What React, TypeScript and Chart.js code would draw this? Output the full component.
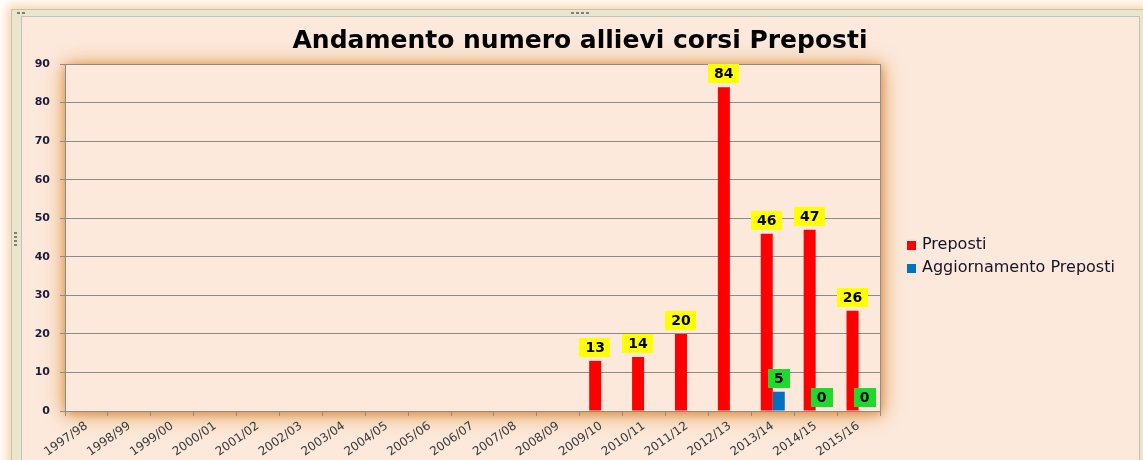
import React, { useEffect, useRef } from "react";
import { Chart, registerables } from "chart.js";

Chart.register(...registerables);

const categories = [
  "1997/98", "1998/99", "1999/00", "2000/01", "2001/02", "2002/03", "2003/04",
  "2004/05", "2005/06", "2006/07", "2007/08", "2008/09", "2009/10", "2010/11",
  "2011/12", "2012/13", "2013/14", "2014/15", "2015/16",
];
const preposti = [null, null, null, null, null, null, null, null, null, null, null, null, 13, 14, 20, 84, 46, 47, 26];
const aggiornamento = [null, null, null, null, null, null, null, null, null, null, null, null, null, null, null, null, 5, 0, 0];
const seriesNames = ["Preposti", "Aggiornamento Preposti"];
const seriesColors = ["#FF0000", "#0070C0"];
const labelColors = ["#FFFF00", "#1FD92E"];
const yMin = 0;
const yMax = 90;
const yStep = 10;
const titleText = "Andamento numero allievi corsi Preposti";

const FONT = "'DejaVu Sans', Verdana, sans-serif";

const decor = {
  id: "decor",
  beforeDraw(chart: any) {
    const { ctx, chartArea: a } = chart;
    ctx.save();
    ctx.fillStyle = "#FCE9DC";
    const passes = [
      { blur: 22, color: "rgba(228,155,75,0.95)", ox: 1, oy: 2 },
      { blur: 10, color: "rgba(215,135,55,0.9)", ox: 1, oy: 2 },
    ];
    passes.forEach((p) => {
      ctx.shadowColor = p.color;
      ctx.shadowBlur = p.blur;
      ctx.shadowOffsetX = p.ox;
      ctx.shadowOffsetY = p.oy;
      ctx.fillRect(a.left, a.top, a.right - a.left, a.bottom - a.top);
    });
    ctx.restore();
  },
  beforeDatasetsDraw(chart: any) {
    const { ctx, chartArea: a } = chart;
    ctx.save();
    ctx.strokeStyle = "#8C8C8C";
    ctx.lineWidth = 1;
    ctx.beginPath();
    ctx.moveTo(Math.round(a.right) + 0.5, a.top);
    ctx.lineTo(Math.round(a.right) + 0.5, a.bottom);
    ctx.stroke();
    ctx.restore();
  },
  afterDatasetsDraw(chart: any) {
    const { ctx } = chart;
    ctx.save();
    ctx.font = `bold 14px ${FONT}`;
    ctx.textAlign = "center";
    ctx.textBaseline = "middle";
    chart.data.datasets.forEach((ds: any, i: number) => {
      const meta = chart.getDatasetMeta(i);
      meta.data.forEach((el: any, j: number) => {
        const v = ds.data[j];
        if (v === null || v === undefined) return;
        const txt = String(v);
        const w = ctx.measureText(txt).width + 12;
        const h = 19;
        const cx = el.x;
        const bottom = el.y - 4;
        ctx.fillStyle = labelColors[i];
        ctx.fillRect(Math.round(cx - w / 2), Math.round(bottom - h), Math.round(w), h);
        ctx.fillStyle = "#000000";
        ctx.fillText(txt, cx, bottom - h / 2 + 1);
      });
    });
    ctx.restore();
  },
  afterDraw(chart: any) {
    const { ctx } = chart;
    ctx.save();
    ctx.font = `16px ${FONT}`;
    ctx.textBaseline = "middle";
    ctx.textAlign = "left";
    const ys = [228, 251];
    seriesNames.forEach((name, i) => {
      ctx.fillStyle = seriesColors[i];
      ctx.fillRect(885, ys[i] - 4, 9, 9);
      ctx.fillStyle = "#141428";
      ctx.fillText(name, 900, ys[i]);
    });
    ctx.restore();
  },
};

export default function App() {
  const ref = useRef<HTMLCanvasElement | null>(null);

  useEffect(() => {
    if (!ref.current) return;
    Chart.defaults.font.family = FONT;
    const chart = new Chart(ref.current, {
      type: "bar",
      data: {
        labels: categories,
        datasets: [
          {
            label: seriesNames[0],
            data: preposti as any,
            backgroundColor: seriesColors[0],
            categoryPercentage: 0.56,
            barPercentage: 1,
          },
          {
            label: seriesNames[1],
            data: aggiornamento as any,
            backgroundColor: seriesColors[1],
            categoryPercentage: 0.56,
            barPercentage: 1,
          },
        ],
      },
      options: {
        animation: false,
        responsive: false,
        maintainAspectRatio: false,
        layout: { padding: 0 },
        plugins: {
          legend: { display: false },
          tooltip: { enabled: false },
          title: {
            display: true,
            text: titleText,
            color: "#000000",
            font: { family: FONT, size: 25, weight: "bold", lineHeight: 1.2 },
            padding: { top: 9, bottom: 8 },
          },
        },
        scales: {
          x: {
            grid: {
              drawOnChartArea: false,
              color: "#8C8C8C",
              tickLength: 5,
              offset: true,
            },
            border: { color: "#8C8C8C" },
            ticks: {
              autoSkip: false,
              minRotation: 35,
              maxRotation: 35,
              color: "#3A3A3A",
              font: { family: FONT, size: 12 },
              padding: 3,
            },
            afterFit(s: any) {
              s.height = 49;
            },
          },
          y: {
            min: yMin,
            max: yMax,
            ticks: {
              stepSize: yStep,
              color: "#1C1C3A",
              font: { family: FONT, size: 11, weight: "bold" },
              padding: 10,
            },
            grid: { color: "#8C8C8C", tickLength: 5 },
            border: { color: "#8C8C8C" },
            afterFit(s: any) {
              s.width = 43;
            },
          },
          yR: {
            type: "linear",
            position: "right",
            display: true,
            grid: { display: false, drawTicks: false },
            ticks: { display: false },
            border: { display: false },
            afterFit(s: any) {
              s.width = 258;
            },
          },
        },
      } as any,
      plugins: [decor],
    });
    return () => chart.destroy();
  }, []);

  const dot = (l: number, t: number) => (
    <span
      style={{
        position: "absolute",
        left: l,
        top: t,
        width: 3,
        height: 2,
        background: "#7A7F86",
      }}
    />
  );

  return (
    <div
      style={{
        position: "fixed",
        left: 0,
        top: 0,
        width: 1143,
        height: 460,
        background: "#FFFFFF",
        overflow: "hidden",
      }}
    >
      <div
        style={{
          position: "absolute",
          left: 11,
          top: 9,
          width: 1131,
          height: 460,
          border: "1px solid #BFC3BA",
          background: "#EAE6CB",
          boxShadow: "0 0 10px 4px rgba(250,205,150,0.85)",
        }}
      />
      <div
        style={{
          position: "absolute",
          left: 21,
          top: 16,
          width: 1117,
          height: 450,
          borderLeft: "1px solid #BFC3BA",
          borderTop: "1px solid #BFC3BA",
          borderRight: "1px solid #BFC3BA",
          background: "#FCE9DC",
        }}
      >
        <canvas ref={ref} width={1116} height={443} style={{ display: "block", width: 1116, height: 443 }} />
      </div>
      {dot(571, 12)}
      {dot(576, 12)}
      {dot(581, 12)}
      {dot(586, 12)}
      {dot(14, 232)}
      {dot(14, 236)}
      {dot(14, 240)}
      {dot(14, 244)}
      {dot(17, 12)}
      {dot(22, 12)}
    </div>
  );
}
